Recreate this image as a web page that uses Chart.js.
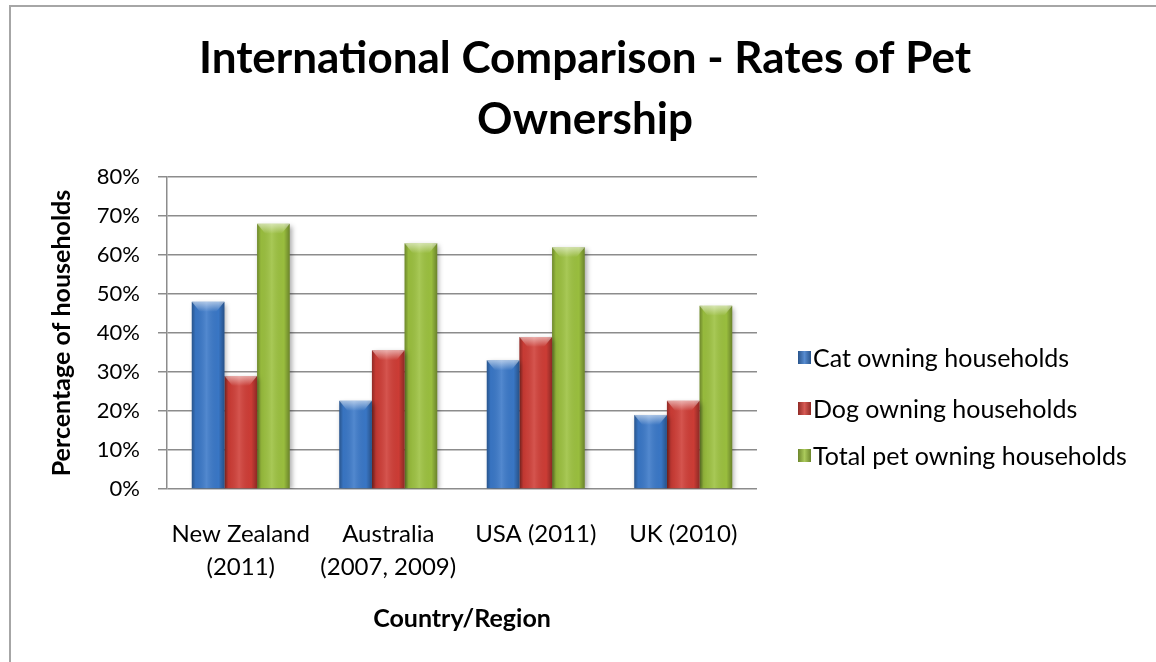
<!DOCTYPE html>
<html lang="en">
<head>
  <meta charset="UTF-8" />
  <title>International Comparison - Rates of Pet Ownership</title>

  <!-- Chart.js -->
  <script src="https://cdn.jsdelivr.net/npm/chart.js"></script>

  <style>
    html, body {
      margin: 0;
      padding: 0;
      background: #fff;
    }
    body {
      width: 1156px;
      height: 662px;
      position: relative;
      overflow: hidden;
      font-family: Lato, 'Open Sans', sans-serif;
    }
    .frame {
      position: absolute;
      left: 9px;
      top: 5px;
      width: 1200px;
      height: 700px;
      border: 2px solid #a6a6a6;
      box-sizing: border-box;
    }
    #petChart {
      position: absolute;
      left: 0;
      top: 0;
    }
    .legend-item {
      position: absolute;
      left: 798px;
      height: 30px;
      display: flex;
      align-items: center;
      white-space: nowrap;
      font-size: 25px;
      color: #000;
    }
    .swatch {
      width: 13px;
      height: 13px;
      margin-right: 2px;
      box-sizing: border-box;
    }
  </style>
</head>
<body>

  <div class="frame"></div>
  <canvas id="petChart" width="1156" height="662"></canvas>
  <div id="legend"></div>

  <script>
    // ── Data ───────────────────────────────────────────────
    const categories = [
      ['New Zealand', '(2011)'],
      ['Australia', '(2007, 2009)'],
      'USA (2011)',
      'UK (2010)'
    ];
    const catOwners   = [48, 22.6, 33, 19];
    const dogOwners   = [29, 35.6, 39, 22.6];
    const totalOwners = [68, 63, 62, 47];
    const yTickLabels = ['0%', '10%', '20%', '30%', '40%', '50%', '60%', '70%', '80%'];

    const seriesNames  = ['Cat owning households', 'Dog owning households', 'Total pet owning households'];
    const seriesColors = ['#3a78c8', '#cf3d36', '#9cc13f'];

    const FONT = 'Lato';

    // Excel-style shading: dark edges, light middle, bevelled top, soft drop shadow
    const barShading = {
      id: 'barShading',
      beforeDatasetsDraw(chart) {
        const ctx = chart.ctx;
        ctx.save();
        ctx.shadowColor = 'rgba(0,0,0,0.35)';
        ctx.shadowBlur = 5;
        ctx.shadowOffsetX = 2;
        ctx.shadowOffsetY = 2;
      },
      afterDatasetDraw(chart, args) {
        const ctx = chart.ctx;
        ctx.save();
        ctx.shadowColor = 'rgba(0,0,0,0)';
        ctx.shadowBlur = 0;
        ctx.shadowOffsetX = 0;
        ctx.shadowOffsetY = 0;
        args.meta.data.forEach(bar => {
          const { x, y, base, width } = bar.getProps(['x', 'y', 'base', 'width'], true);
          const left = x - width / 2;
          const right = x + width / 2;

          const g = ctx.createLinearGradient(left, 0, right, 0);
          g.addColorStop(0, 'rgba(0,0,0,0.30)');
          g.addColorStop(0.12, 'rgba(0,0,0,0.04)');
          g.addColorStop(0.45, 'rgba(255,255,255,0.12)');
          g.addColorStop(0.82, 'rgba(0,0,0,0.02)');
          g.addColorStop(1, 'rgba(0,0,0,0.32)');
          ctx.fillStyle = g;
          ctx.fillRect(left, y, width, base - y);

          const cap = Math.min(10, (base - y) / 2);
          const vg = ctx.createLinearGradient(0, y, 0, y + cap);
          vg.addColorStop(0, 'rgba(255,255,255,0.55)');
          vg.addColorStop(1, 'rgba(255,255,255,0)');
          ctx.fillStyle = vg;
          ctx.beginPath();
          ctx.moveTo(left, y);
          ctx.lineTo(right, y);
          ctx.lineTo(right - width * 0.25, y + cap);
          ctx.lineTo(left + width * 0.25, y + cap);
          ctx.closePath();
          ctx.fill();
        });
        ctx.restore();
      },
      afterDatasetsDraw(chart) {
        chart.ctx.restore();
      }
    };

    const datasets = [catOwners, dogOwners, totalOwners].map((values, i) => ({
      label: seriesNames[i],
      data: values,
      backgroundColor: seriesColors[i],
      borderWidth: 0,
      barPercentage: 1,
      categoryPercentage: 0.664
    }));

    new Chart(document.getElementById('petChart'), {
      type: 'bar',
      data: { labels: categories, datasets },
      plugins: [barShading],
      options: {
        responsive: false,
        animation: false,
        devicePixelRatio: 1,
        layout: { padding: { left: 14, right: 0, top: 0, bottom: 0 } },
        plugins: {
          legend: { display: false },
          tooltip: { enabled: false },
          title: {
            display: true,
            text: ['International Comparison - Rates of Pet', 'Ownership'],
            color: '#000',
            font: { family: FONT, size: 44, weight: 'bold', lineHeight: 61 / 44 },
            padding: { top: 28, bottom: 27 }
          }
        },
        scales: {
          x: {
            grid: { display: false, drawTicks: false },
            border: { display: false },
            ticks: {
              color: '#000',
              font: { family: FONT, size: 24, lineHeight: 33 / 24 },
              padding: 29,
              maxRotation: 0,
              autoSkip: false
            },
            title: {
              display: true,
              text: 'Country/Region',
              color: '#000',
              font: { family: FONT, size: 25, weight: 'bold' },
              padding: { top: 0, bottom: 28 }
            },
            afterFit(scale) { scale.height = 173; }
          },
          y: {
            min: 0,
            max: 80,
            ticks: {
              stepSize: 10,
              callback: (v, i) => yTickLabels[i],
              color: '#000',
              font: { family: FONT, size: 22 },
              padding: 18
            },
            grid: { color: '#8c8c8c', lineWidth: 1.5, tickLength: 9 },
            border: { display: true, color: '#8c8c8c', width: 1.5 },
            title: {
              display: true,
              text: 'Percentage of households',
              color: '#000',
              font: { family: FONT, size: 25, weight: 'bold' },
              padding: { top: 33, bottom: 0 }
            },
            afterFit(scale) { scale.width = 153; }
          },
          // empty column on the right that holds the legend
          legendSpace: {
            type: 'linear',
            axis: 'y',
            position: 'right',
            grid: { display: false, drawTicks: false },
            border: { display: false },
            ticks: { display: false },
            afterFit(scale) { scale.width = 399; }
          }
        }
      }
    });

    // Legend
    const legend = document.getElementById('legend');
    const legendTops = [342, 393, 440];
    seriesNames.forEach((name, i) => {
      const item = document.createElement('div');
      item.className = 'legend-item';
      item.style.top = legendTops[i] + 'px';
      const sw = document.createElement('span');
      sw.className = 'swatch';
      sw.style.background = `linear-gradient(90deg, rgba(0,0,0,0.3), rgba(255,255,255,0.15) 50%, rgba(0,0,0,0.3)), ${seriesColors[i]}`;
      item.appendChild(sw);
      item.appendChild(document.createTextNode(name));
      legend.appendChild(item);
    });
  </script>
</body>
</html>
